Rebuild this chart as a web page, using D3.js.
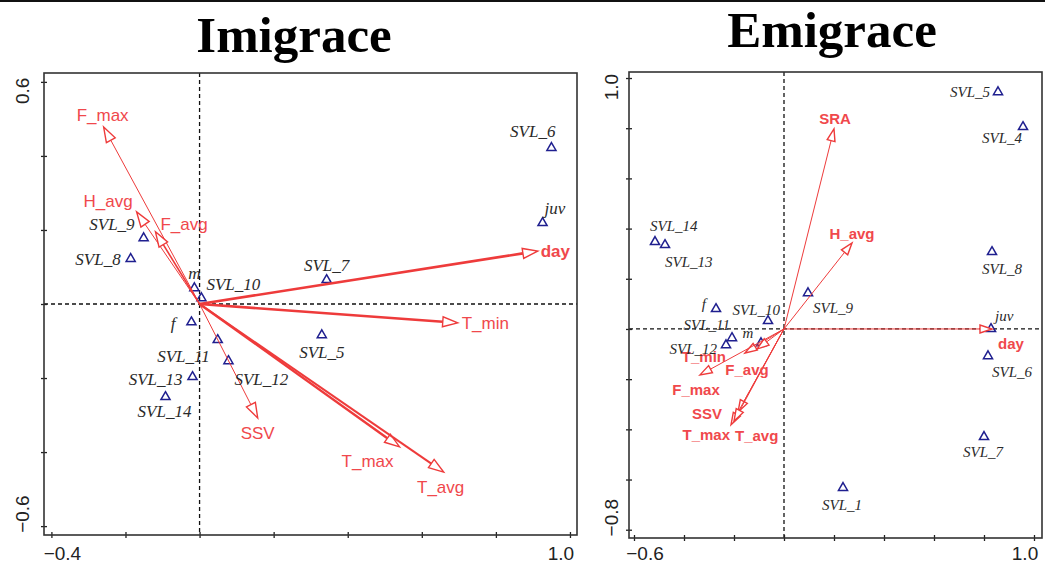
<!DOCTYPE html>
<html>
<head>
<meta charset="utf-8">
<script src="https://cdn.jsdelivr.net/npm/d3@7"></script>
<style>
  body { margin: 0; background: #fff; }
  svg { display: block; }
</style>
</head>
<body>
<svg id="chart" width="1045" height="564"></svg>
<script>
// ---- data: Imigrace ----
var imEnvNames = ["F_max", "H_avg", "F_avg", "day", "T_min", "T_max", "T_avg", "SSV"];
var imEnvX = [-0.259, -0.170, -0.119, 0.913, 0.697, 0.540, 0.659, 0.157];
var imEnvY = [0.478, 0.249, 0.195, 0.143, -0.051, -0.386, -0.454, -0.308];

var imSmpNames = ["SVL_6", "juv", "SVL_7", "SVL_5", "SVL_9", "SVL_8", "m", "SVL_10", "f", "SVL_11", "SVL_12", "SVL_13", "SVL_14"];
var imSmpX = [0.950, 0.926, 0.343, 0.330, -0.151, -0.186, -0.014, 0.005, -0.022, 0.049, 0.078, -0.019, -0.092];
var imSmpY = [0.422, 0.219, 0.065, -0.084, 0.178, 0.122, 0.043, 0.016, -0.049, -0.097, -0.154, -0.197, -0.251];

var imXTicks = [-0.4, -0.2, 0, 0.2, 0.4, 0.6, 0.8, 1.0];
var imYTicks = [-0.6, -0.4, -0.2, 0, 0.2, 0.4, 0.6];

// ---- data: Emigrace ----
var emEnvNames = ["SRA", "H_avg", "day", "T_min", "F_avg", "F_max", "SSV", "T_max", "T_avg"];
var emEnvX = [0.200, 0.272, 0.832, -0.156, -0.108, -0.336, -0.184, -0.212, -0.200];
var emEnvY = [0.797, 0.343, 0.000, -0.096, -0.080, -0.183, -0.331, -0.382, -0.367];

var emSmpNames = ["SVL_5", "SVL_4", "SVL_8", "SVL_9", "juv", "SVL_6", "SVL_7", "SVL_1", "SVL_14", "SVL_13", "f", "SVL_10", "SVL_11", "SVL_12", "m"];
var emSmpX = [0.856, 0.956, 0.832, 0.096, 0.828, 0.816, 0.800, 0.236, -0.516, -0.476, -0.272, -0.064, -0.208, -0.232, -0.092];
var emSmpY = [0.944, 0.805, 0.307, 0.143, 0.000, -0.108, -0.430, -0.633, 0.347, 0.335, 0.080, 0.032, -0.036, -0.064, -0.056];

var emXTicks = [-0.6, -0.4, -0.2, 0, 0.2, 0.4, 0.6, 0.8, 1.0];
var emYTicks = [-0.8, -0.6, -0.4, -0.2, 0, 0.2, 0.4, 0.6, 0.8, 1.0];

// ---- layout (label offsets in px: dx, dy, anchor) ----
var imEnvLab = {
  F_max: [-1, -6, "middle"], H_avg: [-4, -5, "end"], F_avg: [5, -2, "start"],
  day: [3, 6, "start"], T_min: [4, 6, "start"], T_max: [-32, 20, "middle"],
  T_avg: [-3, 21, "middle"], SSV: [0, 21, "middle"]
};
var imEnvWidth = { F_max: 1, H_avg: 1, F_avg: 1.6, day: 2.6, T_min: 2.6, T_max: 2.4, T_avg: 2, SSV: 1 };
var imSmpLab = {
  SVL_6: [4, -11, "end"], juv: [2, -9, "start"], SVL_7: [0, -9, "middle"],
  SVL_5: [0, 23, "middle"], SVL_9: [-9, -8, "end"], SVL_8: [-10, 6, "end"],
  m: [0, -9, "middle"], SVL_10: [5, -8, "start"], f: [-16, 7, "end"],
  SVL_11: [-8, 22, "end"], SVL_12: [6, 24, "start"], SVL_13: [-10, 8, "end"],
  SVL_14: [-1, 20, "middle"]
};
var emEnvLab = {
  SRA: [1, -5, "middle"], H_avg: [0, -4, "middle"], day: [6, 20, "start"],
  T_min: [-19, 9, "end"], F_avg: [-10, 26, "middle"], F_max: [-4, 20, "middle"],
  SSV: [-16, 7, "end"], T_max: [-1, 15, "end"], T_avg: [1, 20, "start"]
};
var emSmpLab = {
  SVL_5: [-8, 5, "end"], SVL_4: [-1, 16, "end"], SVL_8: [10, 22, "middle"],
  SVL_9: [5, 20, "start"], juv: [4, -8, "start"], SVL_6: [4, 21, "start"],
  SVL_7: [-1, 20, "middle"], SVL_1: [-1, 22, "middle"], SVL_14: [-5, -11, "start"],
  SVL_13: [0, 22, "start"], f: [-10, 0, "end"], SVL_10: [12, -6, "end"],
  SVL_11: [-2, -8, "end"], SVL_12: [-9, 9, "end"], m: [-13, -5, "middle"]
};

var red = "#ee3b3b";
var redText = "#f0484c";
var navy = "#1f1f8f";

var svg = d3.select("#chart");

// thin black rule across the very top
svg.append("rect").attr("x", 0).attr("y", 0).attr("width", 1045).attr("height", 2).attr("fill", "#111");

function drawPanel(p) {
  var x = d3.scaleLinear().domain(p.xDom).range([p.left, p.right]);
  var y = d3.scaleLinear().domain(p.yDom).range([p.bottom, p.top]);
  var g = svg.append("g");

  g.append("text")
    .attr("x", p.titleX).attr("y", p.titleY)
    .attr("text-anchor", "middle")
    .style("font-family", "'Liberation Serif', 'Times New Roman', serif")
    .style("font-weight", "bold")
    .style("font-size", "51px")
    .attr("fill", "#000")
    .text(p.title);

  // dashed zero lines
  g.append("line").attr("x1", x(0)).attr("x2", x(0)).attr("y1", p.top).attr("y2", p.bottom)
    .attr("stroke", "#111").attr("stroke-width", 1.3).attr("stroke-dasharray", "4,3");
  g.append("line").attr("x1", p.left).attr("x2", p.right).attr("y1", y(0)).attr("y2", y(0))
    .attr("stroke", "#111").attr("stroke-width", 1.3).attr("stroke-dasharray", "4,3");

  // axes
  var xAxis = d3.axisBottom(x).tickValues(p.xTicks).tickSize(3).tickFormat("");
  var yAxis = d3.axisLeft(y).tickValues(p.yTicks).tickSize(3).tickFormat("");
  var ax = g.append("g").attr("transform", "translate(0," + p.bottom + ")").call(xAxis);
  var ay = g.append("g").attr("transform", "translate(" + p.left + ",0)").call(yAxis);
  [ax, ay].forEach(function(a) {
    a.select(".domain").remove();
    a.selectAll(".tick line").attr("stroke", "#222").attr("stroke-width", 1.3)
      .attr("y1", function() { return a === ax ? -3 : null; })
      .attr("x1", function() { return a === ay ? 3 : null; });
  });

  g.append("rect").attr("x", p.left).attr("y", p.top)
    .attr("width", p.right - p.left).attr("height", p.bottom - p.top)
    .attr("fill", "none").attr("stroke", "#333").attr("stroke-width", 1.6);

  var axFont = "'Liberation Sans', Arial, sans-serif";
  var xEnds = [p.xTicks[0], p.xTicks[p.xTicks.length - 1]];
  g.selectAll(".xl").data(xEnds).enter().append("text")
    .attr("x", function(d, i) { return x(d) + (i === 0 ? 11 : -9); })
    .attr("y", 560)
    .attr("text-anchor", "middle")
    .style("font-family", axFont).style("font-size", "19px").attr("fill", "#222")
    .text(function(d) { return d3.format(".1f")(d); });
  var yEnds = [p.yTicks[0], p.yTicks[p.yTicks.length - 1]];
  g.selectAll(".yl").data(yEnds).enter().append("text")
    .attr("transform", function(d, i) {
      return "translate(" + p.yLabX + "," + (y(d) + (i === 0 ? -12 : 9)) + ") rotate(-90)";
    })
    .attr("text-anchor", "middle")
    .style("font-family", axFont).style("font-size", "19px").attr("fill", "#222")
    .text(function(d) { return d3.format(".1f")(d); });

  // samples (open triangles)
  var smp = p.smpNames.map(function(n, i) { return { name: n, x: p.smpX[i], y: p.smpY[i] }; });
  var tri = d3.symbol().type(d3.symbolTriangle).size(36);
  g.selectAll(".smp").data(smp).enter().append("path")
    .attr("d", tri)
    .attr("transform", function(d) { return "translate(" + x(d.x) + "," + y(d.y) + ")"; })
    .attr("fill", "none").attr("stroke", navy).attr("stroke-width", 1.5);

  // environmental arrows
  var env = p.envNames.map(function(n, i) { return { name: n, x: p.envX[i], y: p.envY[i] }; });
  var ox = x(0), oy = y(0);
  env.forEach(function(d) {
    var tx = x(d.x), ty = y(d.y);
    var len = Math.hypot(tx - ox, ty - oy);
    var ux = (tx - ox) / len, uy = (ty - oy) / len;
    var bx = tx - ux * p.headLen, by = ty - uy * p.headLen;
    var w = p.envWidth ? p.envWidth[d.name] : 1;
    g.append("line").attr("x1", ox).attr("y1", oy).attr("x2", bx).attr("y2", by)
      .attr("stroke", red).attr("stroke-width", w);
    var pts = [[tx, ty], [bx - uy * p.headW, by + ux * p.headW], [bx + uy * p.headW, by - ux * p.headW]];
    g.append("polygon").attr("points", pts.map(function(q) { return q.join(","); }).join(" "))
      .attr("fill", "#fff").attr("stroke", red).attr("stroke-width", 1.4);
  });

  g.selectAll(".envl").data(env).enter().append("text")
    .attr("x", function(d) { return x(d.x) + p.envLab[d.name][0]; })
    .attr("y", function(d) { return y(d.y) + p.envLab[d.name][1]; })
    .attr("text-anchor", function(d) { return p.envLab[d.name][2]; })
    .style("font-family", axFont).style("font-size", p.envSize + "px")
    .style("font-weight", function(d) { return p.envBold || d.name === "day" ? "bold" : "normal"; })
    .attr("fill", redText)
    .text(function(d) { return d.name; });

  g.selectAll(".smpl").data(smp).enter().append("text")
    .attr("x", function(d) { return x(d.x) + p.smpLab[d.name][0]; })
    .attr("y", function(d) { return y(d.y) + p.smpLab[d.name][1]; })
    .attr("text-anchor", function(d) { return p.smpLab[d.name][2]; })
    .style("font-family", "'Liberation Serif', 'Times New Roman', serif")
    .style("font-style", "italic").style("font-size", p.smpSize + "px")
    .attr("fill", "#2a2a2a")
    .text(function(d) { return d.name; });
}

drawPanel({
  title: "Imigrace", titleX: 294, titleY: 52,
  left: 44, right: 577, top: 73, bottom: 535,
  xDom: [-0.42, 1.019], yDom: [-0.624, 0.624],
  xTicks: imXTicks, yTicks: imYTicks, yLabX: 29,
  envNames: imEnvNames, envX: imEnvX, envY: imEnvY, envLab: imEnvLab, envWidth: imEnvWidth,
  smpNames: imSmpNames, smpX: imSmpX, smpY: imSmpY, smpLab: imSmpLab,
  headLen: 15, headW: 5, envBold: false, envSize: 17, smpSize: 17
});

drawPanel({
  title: "Emigrace", titleX: 832, titleY: 47,
  left: 629, right: 1042, top: 72, bottom: 538,
  xDom: [-0.62, 1.032], yDom: [-0.833, 1.024],
  xTicks: emXTicks, yTicks: emYTicks, yLabX: 618,
  envNames: emEnvNames, envX: emEnvX, envY: emEnvY, envLab: emEnvLab, envWidth: null,
  smpNames: emSmpNames, smpX: emSmpX, smpY: emSmpY, smpLab: emSmpLab,
  headLen: 12, headW: 4, envBold: true, envSize: 15, smpSize: 15
});
</script>
</body>
</html>
